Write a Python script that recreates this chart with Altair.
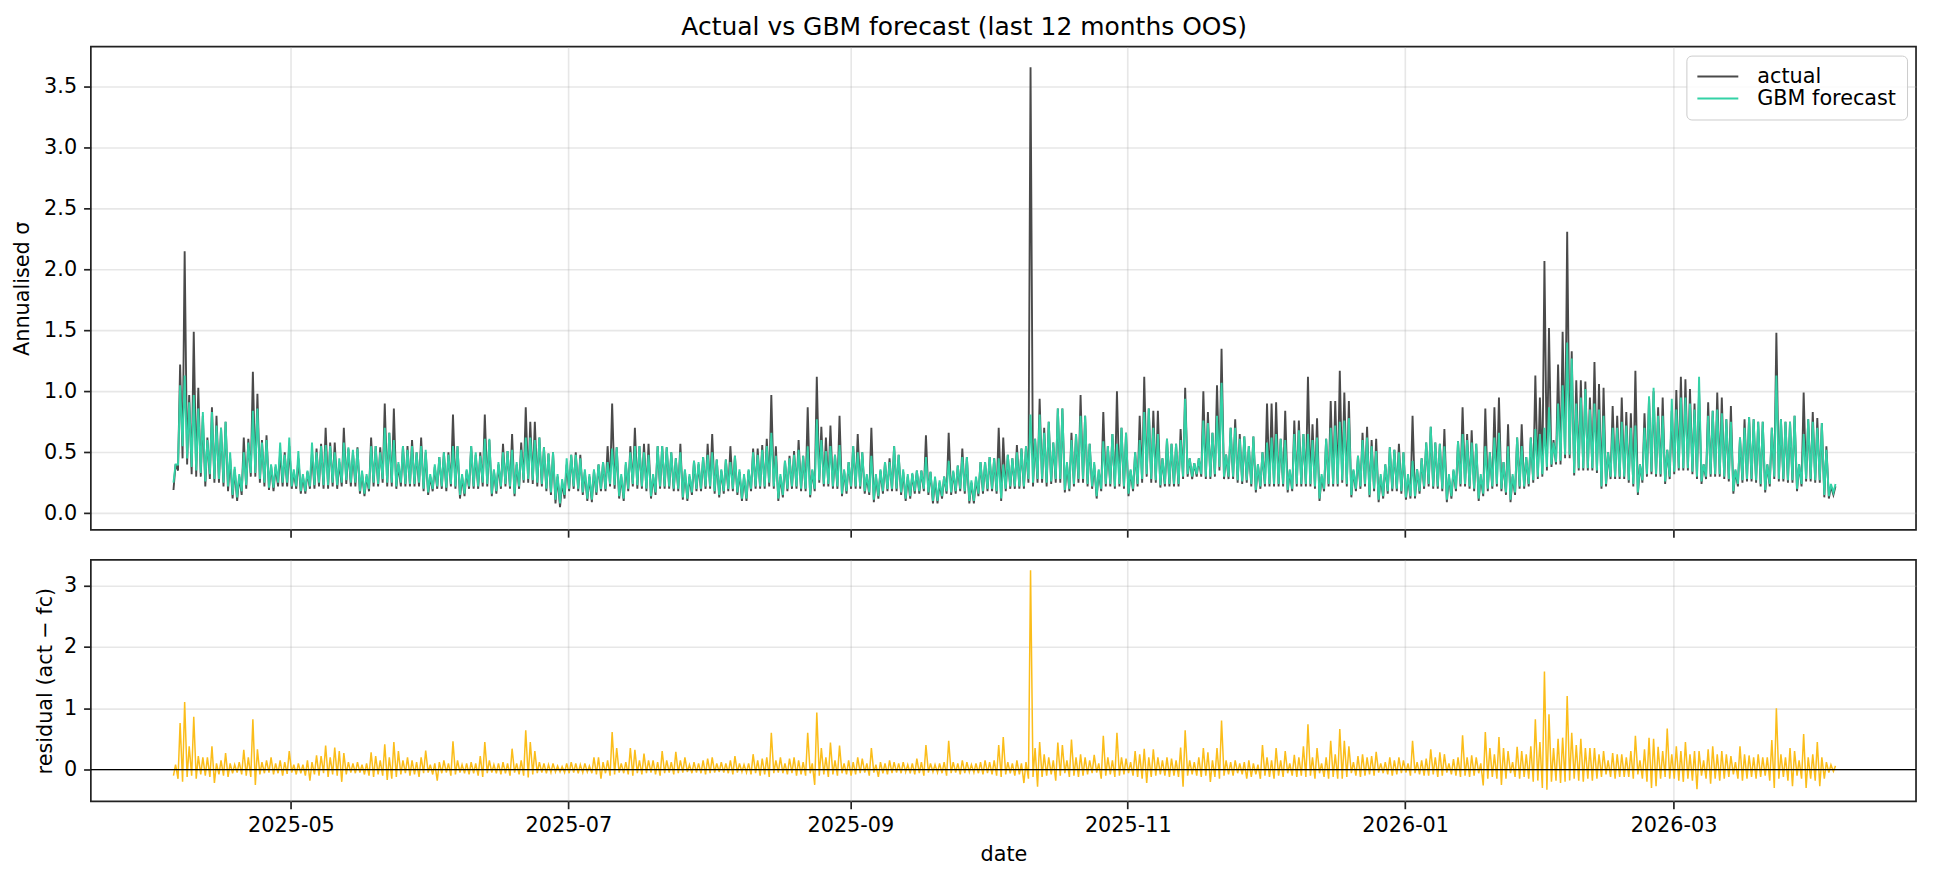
import altair as alt
import pandas as pd

# Daily readings, one value per day starting 2025-04-05.
START = "2025-04-05"

# Daily peak of the realised (actual) annualised volatility
act_peak = [
    0.40, 1.22, 2.15, 0.97, 1.49, 1.03, 0.80, 0.62, 0.87, 0.80,
    0.70, 0.75, 0.45, 0.36, 0.30, 0.62, 0.61, 1.16, 0.98, 0.60,
    0.64, 0.39, 0.38, 0.50, 0.50, 0.55, 0.34, 0.45, 0.30, 0.34,
    0.50, 0.53, 0.57, 0.70, 0.58, 0.58, 0.42, 0.70, 0.53, 0.50,
    0.54, 0.33, 0.30, 0.62, 0.55, 0.54, 0.90, 0.66, 0.86, 0.40,
    0.55, 0.55, 0.60, 0.50, 0.62, 0.50, 0.30, 0.38, 0.46, 0.50,
    0.50, 0.81, 0.55, 0.30, 0.35, 0.55, 0.48, 0.50, 0.81, 0.60,
    0.35, 0.40, 0.57, 0.51, 0.65, 0.40, 0.58, 0.87, 0.75, 0.75,
    0.62, 0.54, 0.49, 0.50, 0.30, 0.25, 0.40, 0.48, 0.50, 0.48,
    0.34, 0.30, 0.35, 0.40, 0.42, 0.55, 0.90, 0.54, 0.30, 0.40,
    0.55, 0.70, 0.55, 0.57, 0.57, 0.30, 0.55, 0.55, 0.54, 0.50,
    0.45, 0.57, 0.35, 0.30, 0.43, 0.40, 0.46, 0.57, 0.65, 0.44,
    0.35, 0.44, 0.55, 0.47, 0.34, 0.30, 0.35, 0.53, 0.53, 0.56,
    0.61, 0.97, 0.55, 0.30, 0.43, 0.47, 0.51, 0.60, 0.47, 0.87,
    0.35, 1.12, 0.71, 0.62, 0.72, 0.48, 0.80, 0.35, 0.42, 0.55,
    0.65, 0.50, 0.30, 0.70, 0.30, 0.35, 0.42, 0.45, 0.55, 0.48,
    0.34, 0.30, 0.32, 0.35, 0.35, 0.64, 0.34, 0.28, 0.25, 0.30,
    0.66, 0.34, 0.39, 0.53, 0.46, 0.25, 0.28, 0.42, 0.42, 0.46,
    0.45, 0.70, 0.62, 0.48, 0.45, 0.56, 0.53, 0.55, 3.66, 0.61,
    0.94, 0.70, 0.75, 0.58, 0.86, 0.86, 0.40, 0.66, 0.65, 0.97,
    0.80, 0.57, 0.40, 0.35, 0.83, 0.55, 0.65, 1.00, 0.70, 0.66,
    0.35, 0.50, 0.80, 1.12, 0.86, 0.84, 0.84, 0.45, 0.61, 0.57,
    0.57, 0.69, 1.03, 0.45, 0.41, 0.45, 1.00, 0.83, 0.66, 1.05,
    1.35, 0.48, 0.70, 0.77, 0.65, 0.63, 0.55, 0.63, 0.40, 0.50,
    0.90, 0.90, 0.91, 0.61, 0.84, 0.35, 0.76, 0.76, 0.65, 1.12,
    0.73, 0.78, 0.30, 0.61, 0.92, 0.92, 1.17, 0.99, 0.92, 0.35,
    0.47, 0.66, 0.71, 0.60, 0.61, 0.30, 0.40, 0.54, 0.52, 0.57,
    0.50, 0.30, 0.80, 0.36, 0.45, 0.58, 0.71, 0.58, 0.57, 0.69,
    0.30, 0.35, 0.59, 0.87, 0.65, 0.68, 0.57, 0.30, 0.86, 0.50,
    0.87, 0.95, 0.42, 0.73, 0.30, 0.62, 0.73, 0.46, 0.62, 1.13,
    0.95, 2.07, 1.52, 0.60, 1.22, 1.49, 2.31, 1.33, 1.09, 1.09,
    1.08, 0.95, 1.24, 1.06, 1.03, 0.50, 0.88, 0.80, 0.95, 0.83,
    0.82, 1.17, 0.40, 0.82, 0.95, 1.00, 0.87, 0.95, 0.52, 0.84,
    1.01, 1.12, 1.10, 1.02, 0.90, 1.00, 0.40, 0.91, 0.84, 0.99,
    0.95, 0.77, 0.88, 0.35, 0.62, 0.77, 0.79, 0.77, 0.75, 0.75,
    0.40, 0.70, 1.48, 0.77, 0.75, 0.75, 0.80, 0.40, 0.99, 0.77,
    0.83, 0.78, 0.74, 0.55, 0.22, 0.22,
]

# Daily peak of the GBM forecast
fc_peak = [
    0.40, 1.05, 1.13, 0.91, 0.97, 0.86, 0.83, 0.60, 0.83, 0.72,
    0.70, 0.75, 0.50, 0.38, 0.32, 0.50, 0.58, 0.84, 0.86, 0.58,
    0.60, 0.40, 0.40, 0.58, 0.48, 0.62, 0.36, 0.51, 0.32, 0.35,
    0.58, 0.50, 0.55, 0.56, 0.55, 0.50, 0.45, 0.58, 0.54, 0.52,
    0.53, 0.35, 0.32, 0.55, 0.55, 0.50, 0.70, 0.66, 0.60, 0.42,
    0.55, 0.52, 0.55, 0.50, 0.55, 0.52, 0.32, 0.40, 0.46, 0.50,
    0.48, 0.55, 0.55, 0.32, 0.36, 0.55, 0.50, 0.47, 0.61, 0.61,
    0.36, 0.42, 0.50, 0.51, 0.52, 0.42, 0.52, 0.62, 0.62, 0.60,
    0.62, 0.54, 0.49, 0.50, 0.32, 0.28, 0.45, 0.48, 0.48, 0.45,
    0.36, 0.32, 0.36, 0.40, 0.42, 0.42, 0.53, 0.54, 0.32, 0.42,
    0.50, 0.55, 0.55, 0.50, 0.48, 0.32, 0.55, 0.55, 0.54, 0.50,
    0.45, 0.50, 0.36, 0.32, 0.43, 0.42, 0.46, 0.48, 0.50, 0.44,
    0.36, 0.44, 0.42, 0.47, 0.36, 0.32, 0.36, 0.50, 0.48, 0.52,
    0.55, 0.66, 0.47, 0.32, 0.43, 0.45, 0.48, 0.52, 0.47, 0.55,
    0.36, 0.77, 0.60, 0.51, 0.55, 0.48, 0.56, 0.36, 0.42, 0.55,
    0.50, 0.50, 0.32, 0.47, 0.32, 0.36, 0.42, 0.42, 0.55, 0.48,
    0.36, 0.32, 0.33, 0.35, 0.35, 0.46, 0.34, 0.30, 0.27, 0.30,
    0.43, 0.35, 0.39, 0.46, 0.46, 0.27, 0.30, 0.42, 0.42, 0.46,
    0.45, 0.45, 0.40, 0.48, 0.45, 0.50, 0.53, 0.55, 0.81, 0.61,
    0.81, 0.66, 0.75, 0.58, 0.86, 0.86, 0.42, 0.60, 0.65, 0.80,
    0.80, 0.57, 0.42, 0.36, 0.59, 0.55, 0.65, 0.57, 0.70, 0.66,
    0.36, 0.50, 0.60, 0.83, 0.86, 0.70, 0.65, 0.45, 0.61, 0.57,
    0.57, 0.60, 0.94, 0.45, 0.41, 0.45, 0.76, 0.74, 0.66, 0.80,
    1.07, 0.48, 0.70, 0.70, 0.61, 0.63, 0.55, 0.63, 0.40, 0.50,
    0.58, 0.62, 0.65, 0.61, 0.60, 0.36, 0.65, 0.68, 0.65, 0.65,
    0.60, 0.62, 0.32, 0.61, 0.70, 0.72, 0.75, 0.76, 0.78, 0.36,
    0.47, 0.60, 0.62, 0.55, 0.51, 0.32, 0.40, 0.54, 0.52, 0.50,
    0.50, 0.32, 0.43, 0.36, 0.45, 0.58, 0.71, 0.58, 0.57, 0.55,
    0.32, 0.36, 0.59, 0.65, 0.60, 0.58, 0.57, 0.32, 0.55, 0.50,
    0.62, 0.66, 0.42, 0.55, 0.32, 0.62, 0.55, 0.46, 0.62, 0.69,
    0.65, 0.70, 0.87, 0.58, 0.90, 1.05, 1.40, 1.27, 0.90, 0.95,
    1.02, 0.85, 0.90, 0.85, 0.80, 0.50, 0.70, 0.70, 0.75, 0.72,
    0.70, 0.72, 0.40, 0.70, 0.96, 1.03, 0.80, 0.80, 0.52, 0.94,
    0.85, 0.95, 0.95, 0.90, 0.85, 1.12, 0.40, 0.80, 0.84, 0.85,
    0.82, 0.77, 0.75, 0.36, 0.62, 0.70, 0.79, 0.77, 0.75, 0.75,
    0.40, 0.70, 1.13, 0.77, 0.75, 0.75, 0.80, 0.40, 0.65, 0.77,
    0.75, 0.70, 0.74, 0.52, 0.24, 0.24,
]

# Daily trough of the actual series
act_trough = [
    0.19, 0.35, 0.45, 0.40, 0.32, 0.30, 0.30, 0.22, 0.28, 0.25,
    0.25, 0.22, 0.18, 0.12, 0.10, 0.15, 0.20, 0.30, 0.30, 0.25,
    0.22, 0.19, 0.18, 0.22, 0.22, 0.22, 0.20, 0.20, 0.16, 0.16,
    0.20, 0.20, 0.22, 0.20, 0.20, 0.22, 0.20, 0.22, 0.24, 0.22,
    0.22, 0.16, 0.14, 0.18, 0.22, 0.22, 0.25, 0.22, 0.22, 0.20,
    0.22, 0.22, 0.22, 0.22, 0.22, 0.18, 0.15, 0.18, 0.20, 0.20,
    0.18, 0.22, 0.20, 0.12, 0.14, 0.20, 0.20, 0.20, 0.22, 0.22,
    0.14, 0.16, 0.20, 0.22, 0.20, 0.14, 0.20, 0.25, 0.25, 0.24,
    0.22, 0.22, 0.18, 0.15, 0.08, 0.05, 0.12, 0.18, 0.20, 0.18,
    0.15, 0.10, 0.09, 0.15, 0.18, 0.18, 0.22, 0.20, 0.12, 0.10,
    0.18, 0.22, 0.20, 0.20, 0.18, 0.12, 0.15, 0.20, 0.20, 0.20,
    0.18, 0.18, 0.11, 0.10, 0.15, 0.18, 0.18, 0.20, 0.20, 0.16,
    0.13, 0.16, 0.18, 0.18, 0.15, 0.10, 0.10, 0.18, 0.20, 0.20,
    0.20, 0.22, 0.20, 0.10, 0.13, 0.18, 0.20, 0.20, 0.18, 0.18,
    0.13, 0.18, 0.25, 0.22, 0.22, 0.20, 0.20, 0.14, 0.16, 0.20,
    0.20, 0.20, 0.16, 0.15, 0.09, 0.12, 0.16, 0.18, 0.18, 0.18,
    0.15, 0.10, 0.12, 0.16, 0.16, 0.18, 0.15, 0.08, 0.08, 0.12,
    0.16, 0.15, 0.16, 0.18, 0.16, 0.08, 0.08, 0.14, 0.16, 0.18,
    0.18, 0.16, 0.10, 0.18, 0.20, 0.20, 0.20, 0.20, 0.25, 0.22,
    0.25, 0.25, 0.22, 0.24, 0.25, 0.25, 0.17, 0.18, 0.22, 0.25,
    0.25, 0.22, 0.20, 0.12, 0.18, 0.22, 0.22, 0.20, 0.22, 0.20,
    0.14, 0.18, 0.22, 0.25, 0.30, 0.25, 0.25, 0.21, 0.22, 0.22,
    0.22, 0.22, 0.28, 0.30, 0.28, 0.30, 0.30, 0.28, 0.28, 0.30,
    0.35, 0.28, 0.28, 0.28, 0.25, 0.24, 0.25, 0.22, 0.17, 0.20,
    0.22, 0.22, 0.22, 0.22, 0.22, 0.17, 0.18, 0.22, 0.22, 0.22,
    0.22, 0.20, 0.10, 0.18, 0.22, 0.22, 0.22, 0.25, 0.22, 0.13,
    0.18, 0.20, 0.22, 0.13, 0.18, 0.09, 0.12, 0.16, 0.18, 0.18,
    0.16, 0.11, 0.12, 0.12, 0.16, 0.20, 0.22, 0.20, 0.20, 0.18,
    0.09, 0.12, 0.18, 0.22, 0.22, 0.20, 0.18, 0.10, 0.14, 0.18,
    0.20, 0.22, 0.18, 0.15, 0.09, 0.15, 0.20, 0.20, 0.22, 0.25,
    0.28, 0.30, 0.35, 0.38, 0.40, 0.40, 0.45, 0.45, 0.31, 0.35,
    0.35, 0.35, 0.35, 0.33, 0.20, 0.22, 0.28, 0.28, 0.28, 0.28,
    0.25, 0.22, 0.15, 0.25, 0.30, 0.32, 0.30, 0.30, 0.24, 0.28,
    0.32, 0.35, 0.35, 0.35, 0.32, 0.28, 0.24, 0.28, 0.30, 0.30,
    0.30, 0.28, 0.26, 0.16, 0.22, 0.25, 0.26, 0.26, 0.25, 0.22,
    0.17, 0.22, 0.28, 0.26, 0.26, 0.25, 0.25, 0.18, 0.22, 0.26,
    0.26, 0.25, 0.25, 0.13, 0.12, 0.15,
]

# Daily trough of the GBM forecast
fc_trough = [
    0.25, 0.40, 0.55, 0.45, 0.38, 0.35, 0.33, 0.26, 0.32, 0.28,
    0.28, 0.25, 0.22, 0.15, 0.13, 0.18, 0.23, 0.33, 0.33, 0.28,
    0.25, 0.21, 0.21, 0.25, 0.25, 0.25, 0.22, 0.22, 0.18, 0.18,
    0.22, 0.23, 0.25, 0.23, 0.23, 0.25, 0.23, 0.25, 0.27, 0.25,
    0.25, 0.18, 0.16, 0.20, 0.25, 0.24, 0.28, 0.25, 0.25, 0.22,
    0.25, 0.24, 0.24, 0.24, 0.25, 0.20, 0.17, 0.20, 0.22, 0.22,
    0.21, 0.24, 0.22, 0.15, 0.16, 0.22, 0.22, 0.22, 0.25, 0.24,
    0.16, 0.18, 0.22, 0.24, 0.22, 0.16, 0.22, 0.27, 0.28, 0.27,
    0.25, 0.24, 0.20, 0.17, 0.11, 0.08, 0.15, 0.20, 0.22, 0.20,
    0.17, 0.12, 0.11, 0.17, 0.20, 0.20, 0.24, 0.23, 0.14, 0.12,
    0.20, 0.24, 0.23, 0.22, 0.20, 0.14, 0.17, 0.22, 0.22, 0.22,
    0.20, 0.20, 0.13, 0.12, 0.17, 0.20, 0.20, 0.22, 0.22, 0.18,
    0.15, 0.18, 0.20, 0.20, 0.17, 0.12, 0.12, 0.20, 0.22, 0.22,
    0.22, 0.25, 0.22, 0.12, 0.15, 0.20, 0.22, 0.22, 0.20, 0.20,
    0.15, 0.20, 0.27, 0.24, 0.24, 0.22, 0.22, 0.16, 0.18, 0.22,
    0.22, 0.22, 0.18, 0.17, 0.11, 0.14, 0.18, 0.20, 0.20, 0.20,
    0.17, 0.12, 0.14, 0.18, 0.18, 0.20, 0.17, 0.10, 0.10, 0.14,
    0.18, 0.17, 0.18, 0.20, 0.18, 0.10, 0.10, 0.16, 0.18, 0.20,
    0.20, 0.18, 0.12, 0.20, 0.22, 0.22, 0.22, 0.22, 0.28, 0.25,
    0.28, 0.28, 0.25, 0.26, 0.28, 0.28, 0.19, 0.20, 0.24, 0.28,
    0.28, 0.24, 0.22, 0.14, 0.20, 0.24, 0.24, 0.22, 0.24, 0.22,
    0.16, 0.20, 0.24, 0.28, 0.32, 0.28, 0.27, 0.23, 0.24, 0.24,
    0.24, 0.24, 0.30, 0.32, 0.30, 0.32, 0.32, 0.30, 0.30, 0.32,
    0.38, 0.30, 0.30, 0.30, 0.27, 0.26, 0.27, 0.24, 0.19, 0.22,
    0.24, 0.24, 0.24, 0.24, 0.24, 0.19, 0.20, 0.24, 0.24, 0.24,
    0.24, 0.22, 0.12, 0.20, 0.24, 0.24, 0.24, 0.27, 0.24, 0.15,
    0.20, 0.22, 0.24, 0.15, 0.20, 0.11, 0.14, 0.18, 0.20, 0.20,
    0.18, 0.13, 0.14, 0.14, 0.18, 0.22, 0.24, 0.22, 0.22, 0.20,
    0.11, 0.14, 0.20, 0.24, 0.24, 0.22, 0.20, 0.12, 0.16, 0.20,
    0.22, 0.24, 0.20, 0.17, 0.11, 0.17, 0.22, 0.22, 0.24, 0.27,
    0.30, 0.32, 0.38, 0.40, 0.42, 0.43, 0.48, 0.48, 0.33, 0.37,
    0.37, 0.37, 0.37, 0.35, 0.22, 0.24, 0.30, 0.30, 0.30, 0.30,
    0.27, 0.24, 0.17, 0.27, 0.32, 0.34, 0.32, 0.32, 0.26, 0.30,
    0.34, 0.37, 0.37, 0.37, 0.34, 0.30, 0.26, 0.30, 0.32, 0.32,
    0.32, 0.30, 0.28, 0.18, 0.24, 0.27, 0.28, 0.28, 0.27, 0.24,
    0.19, 0.24, 0.30, 0.28, 0.28, 0.27, 0.27, 0.20, 0.24, 0.28,
    0.28, 0.27, 0.27, 0.15, 0.14, 0.17,
]

# Daily largest residual (act − fc)
resid_high = [
    0.08, 0.76, 1.10, 0.38, 0.86, 0.22, 0.20, 0.20, 0.38, 0.10,
    0.15, 0.27, 0.10, 0.08, 0.12, 0.32, 0.20, 0.82, 0.33, 0.12,
    0.15, 0.20, 0.10, 0.15, 0.12, 0.30, 0.08, 0.10, 0.08, 0.15,
    0.12, 0.23, 0.22, 0.39, 0.20, 0.36, 0.30, 0.27, 0.12, 0.10,
    0.12, 0.08, 0.10, 0.28, 0.22, 0.15, 0.41, 0.20, 0.45, 0.30,
    0.15, 0.20, 0.15, 0.12, 0.20, 0.31, 0.08, 0.10, 0.12, 0.15,
    0.10, 0.46, 0.15, 0.08, 0.10, 0.12, 0.10, 0.22, 0.45, 0.15,
    0.08, 0.10, 0.12, 0.10, 0.34, 0.10, 0.15, 0.64, 0.45, 0.30,
    0.12, 0.10, 0.08, 0.10, 0.06, 0.05, 0.10, 0.12, 0.10, 0.08,
    0.10, 0.06, 0.20, 0.20, 0.12, 0.15, 0.61, 0.35, 0.10, 0.12,
    0.35, 0.32, 0.15, 0.26, 0.15, 0.15, 0.12, 0.30, 0.15, 0.12,
    0.29, 0.15, 0.20, 0.08, 0.12, 0.10, 0.15, 0.18, 0.20, 0.10,
    0.12, 0.10, 0.15, 0.22, 0.10, 0.08, 0.10, 0.25, 0.15, 0.18,
    0.20, 0.60, 0.15, 0.20, 0.10, 0.18, 0.20, 0.15, 0.12, 0.60,
    0.10, 0.93, 0.35, 0.20, 0.44, 0.15, 0.39, 0.10, 0.15, 0.12,
    0.20, 0.18, 0.10, 0.35, 0.08, 0.12, 0.10, 0.15, 0.12, 0.10,
    0.12, 0.08, 0.10, 0.18, 0.12, 0.40, 0.10, 0.08, 0.10, 0.12,
    0.47, 0.12, 0.10, 0.15, 0.12, 0.08, 0.10, 0.12, 0.15, 0.12,
    0.15, 0.40, 0.53, 0.12, 0.10, 0.15, 0.10, 0.12, 3.25, 0.35,
    0.45, 0.25, 0.20, 0.15, 0.44, 0.40, 0.15, 0.49, 0.20, 0.25,
    0.20, 0.15, 0.24, 0.10, 0.55, 0.20, 0.15, 0.60, 0.20, 0.18,
    0.12, 0.30, 0.25, 0.34, 0.20, 0.33, 0.20, 0.15, 0.20, 0.18,
    0.15, 0.36, 0.64, 0.15, 0.12, 0.20, 0.35, 0.28, 0.15, 0.35,
    0.80, 0.15, 0.12, 0.15, 0.10, 0.12, 0.15, 0.10, 0.08, 0.40,
    0.20, 0.15, 0.35, 0.15, 0.30, 0.10, 0.24, 0.20, 0.38, 0.74,
    0.20, 0.35, 0.10, 0.20, 0.47, 0.25, 0.66, 0.47, 0.38, 0.12,
    0.22, 0.25, 0.20, 0.22, 0.29, 0.10, 0.12, 0.20, 0.15, 0.20,
    0.15, 0.10, 0.47, 0.12, 0.15, 0.18, 0.33, 0.20, 0.28, 0.25,
    0.10, 0.17, 0.20, 0.56, 0.20, 0.23, 0.20, 0.10, 0.61, 0.35,
    0.25, 0.53, 0.35, 0.30, 0.12, 0.37, 0.30, 0.25, 0.38, 0.82,
    0.45, 1.60, 0.90, 0.35, 0.50, 0.52, 1.20, 0.60, 0.40, 0.50,
    0.35, 0.35, 0.35, 0.25, 0.30, 0.15, 0.27, 0.25, 0.25, 0.20,
    0.30, 0.55, 0.15, 0.33, 0.52, 0.50, 0.37, 0.30, 0.67, 0.25,
    0.38, 0.30, 0.45, 0.25, 0.30, 0.30, 0.15, 0.33, 0.38, 0.25,
    0.30, 0.25, 0.22, 0.12, 0.38, 0.25, 0.23, 0.20, 0.25, 0.20,
    0.20, 0.48, 1.00, 0.25, 0.20, 0.35, 0.30, 0.15, 0.58, 0.20,
    0.25, 0.45, 0.20, 0.12, 0.08, 0.06,
]

# Daily most negative residual (act − fc)
resid_low = [
    -0.10, -0.15, -0.20, -0.12, -0.10, -0.15, -0.08, -0.10, -0.12, -0.22,
    -0.08, -0.10, -0.12, -0.06, -0.05, -0.08, -0.10, -0.12, -0.25, -0.08,
    -0.06, -0.05, -0.08, -0.06, -0.10, -0.07, -0.05, -0.08, -0.06, -0.10,
    -0.18, -0.08, -0.10, -0.06, -0.12, -0.08, -0.10, -0.20, -0.08, -0.05,
    -0.06, -0.05, -0.08, -0.10, -0.12, -0.08, -0.10, -0.17, -0.15, -0.12,
    -0.08, -0.06, -0.10, -0.08, -0.12, -0.06, -0.05, -0.08, -0.18, -0.06,
    -0.05, -0.10, -0.08, -0.05, -0.06, -0.08, -0.06, -0.10, -0.12, -0.06,
    -0.05, -0.06, -0.08, -0.06, -0.10, -0.05, -0.08, -0.10, -0.13, -0.08,
    -0.06, -0.05, -0.06, -0.05, -0.04, -0.04, -0.05, -0.06, -0.05, -0.06,
    -0.05, -0.04, -0.06, -0.08, -0.15, -0.06, -0.10, -0.08, -0.05, -0.06,
    -0.08, -0.10, -0.06, -0.08, -0.06, -0.05, -0.08, -0.10, -0.06, -0.05,
    -0.08, -0.06, -0.05, -0.04, -0.06, -0.05, -0.06, -0.08, -0.06, -0.05,
    -0.04, -0.05, -0.06, -0.08, -0.05, -0.04, -0.05, -0.08, -0.06, -0.10,
    -0.08, -0.12, -0.06, -0.05, -0.06, -0.08, -0.06, -0.10, -0.08, -0.10,
    -0.06, -0.25, -0.10, -0.08, -0.12, -0.08, -0.10, -0.06, -0.08, -0.10,
    -0.08, -0.06, -0.05, -0.10, -0.05, -0.12, -0.06, -0.08, -0.06, -0.05,
    -0.06, -0.04, -0.06, -0.08, -0.06, -0.10, -0.05, -0.04, -0.05, -0.06,
    -0.10, -0.06, -0.05, -0.08, -0.06, -0.04, -0.05, -0.06, -0.08, -0.06,
    -0.08, -0.10, -0.12, -0.08, -0.06, -0.10, -0.08, -0.22, -0.15, -0.12,
    -0.28, -0.12, -0.10, -0.08, -0.18, -0.10, -0.06, -0.12, -0.10, -0.12,
    -0.10, -0.08, -0.06, -0.05, -0.15, -0.10, -0.08, -0.12, -0.10, -0.08,
    -0.06, -0.10, -0.12, -0.15, -0.22, -0.12, -0.10, -0.08, -0.10, -0.12,
    -0.10, -0.12, -0.28, -0.10, -0.08, -0.10, -0.12, -0.10, -0.20, -0.12,
    -0.15, -0.10, -0.08, -0.10, -0.06, -0.08, -0.15, -0.12, -0.08, -0.15,
    -0.10, -0.12, -0.15, -0.10, -0.12, -0.06, -0.10, -0.12, -0.10, -0.12,
    -0.10, -0.15, -0.06, -0.12, -0.15, -0.12, -0.15, -0.15, -0.12, -0.06,
    -0.10, -0.12, -0.10, -0.08, -0.10, -0.05, -0.06, -0.08, -0.10, -0.08,
    -0.06, -0.05, -0.10, -0.06, -0.08, -0.10, -0.10, -0.08, -0.12, -0.10,
    -0.05, -0.08, -0.10, -0.12, -0.10, -0.12, -0.10, -0.06, -0.26, -0.15,
    -0.12, -0.15, -0.25, -0.15, -0.06, -0.12, -0.15, -0.12, -0.15, -0.20,
    -0.18, -0.30, -0.33, -0.20, -0.18, -0.22, -0.20, -0.18, -0.15, -0.18,
    -0.20, -0.15, -0.18, -0.15, -0.12, -0.08, -0.12, -0.15, -0.12, -0.12,
    -0.12, -0.15, -0.08, -0.15, -0.20, -0.30, -0.27, -0.15, -0.12, -0.15,
    -0.15, -0.18, -0.20, -0.15, -0.18, -0.32, -0.10, -0.15, -0.23, -0.15,
    -0.18, -0.15, -0.12, -0.08, -0.15, -0.18, -0.15, -0.12, -0.15, -0.12,
    -0.10, -0.18, -0.30, -0.15, -0.12, -0.18, -0.27, -0.10, -0.15, -0.30,
    -0.15, -0.18, -0.27, -0.15, -0.05, -0.03,
]

# Hour of day at which the trough and the peak are sampled
TROUGH_HOUR = 4
PEAK_HOUR = 15

base = pd.Timestamp(START)


def stamp(day, hour):
    return (base + pd.Timedelta(days=day, hours=hour)).strftime("%Y-%m-%dT%H:%M:%S")


n_days = min(len(act_peak), len(fc_peak), len(act_trough), len(fc_trough))
sigma_rows = []
for d in range(n_days):
    sigma_rows.append({"time": stamp(d, TROUGH_HOUR), "actual": act_trough[d], "forecast": fc_trough[d]})
    sigma_rows.append({"time": stamp(d, PEAK_HOUR), "actual": act_peak[d], "forecast": fc_peak[d]})
sigma_df = pd.DataFrame(sigma_rows)

n_resid = min(len(resid_high), len(resid_low))
resid_rows = []
for d in range(n_resid):
    resid_rows.append({"time": stamp(d, TROUGH_HOUR), "residual": resid_low[d]})
    resid_rows.append({"time": stamp(d, PEAK_HOUR), "residual": resid_high[d]})
resid_df = pd.DataFrame(resid_rows)

zero_df = pd.DataFrame({"level": [0.0]})

FONT = "DejaVu Sans"
FS = 20.8
C_ACTUAL = "#4a4a4a"
C_FORECAST = "#33d2a6"
C_RESID = "#fbbd1a"

x_scale = alt.Scale(domain=[alt.DateTime(year=2025, month=3, date=18),
                            alt.DateTime(year=2026, month=4, date=23, hours=8)])
month_ticks = [alt.DateTime(year=y, month=m, date=1)
               for y, m in [(2025, 5), (2025, 7), (2025, 9), (2025, 11), (2026, 1), (2026, 3)]]

top_x_axis = alt.Axis(values=month_ticks, labels=False, title=None, grid=True)
bottom_x_axis = alt.Axis(values=month_ticks, format="%Y-%m", title="date", grid=True,
                         labelOverlap=False, titlePadding=9)

top_y_scale = alt.Scale(domain=[-0.137, 3.83], nice=False, zero=False)
top_y_axis = alt.Axis(values=[0, 0.5, 1, 1.5, 2, 2.5, 3, 3.5], format=".1f",
                      title="Annualised σ", grid=True, titlePadding=11)

color_scale = alt.Scale(domain=["actual", "GBM forecast"], range=[C_ACTUAL, C_FORECAST])
legend = alt.Legend(orient="top-right", offset=9, title=None)

actual_line = alt.Chart(sigma_df).transform_calculate(series="'actual'").mark_line(strokeWidth=1.9).encode(
    x=alt.X("time:T", scale=x_scale, axis=top_x_axis),
    y=alt.Y("actual:Q", scale=top_y_scale, axis=top_y_axis),
    color=alt.Color("series:N", scale=color_scale, legend=legend),
)
forecast_line = alt.Chart(sigma_df).transform_calculate(series="'GBM forecast'").mark_line(strokeWidth=1.9).encode(
    x=alt.X("time:T", scale=x_scale, axis=top_x_axis),
    y=alt.Y("forecast:Q", scale=top_y_scale, axis=top_y_axis),
    color=alt.Color("series:N", scale=color_scale, legend=legend),
)
top = alt.layer(actual_line, forecast_line).properties(width=1828, height=484)

bottom_y_scale = alt.Scale(domain=[-0.52, 3.42], nice=False, zero=False)
bottom_y_axis = alt.Axis(values=[0, 1, 2, 3], format="d",
                         title="residual (act − fc)", grid=True, titlePadding=8)

resid_line = alt.Chart(resid_df).mark_line(color=C_RESID, strokeWidth=1.5).encode(
    x=alt.X("time:T", scale=x_scale, axis=bottom_x_axis),
    y=alt.Y("residual:Q", scale=bottom_y_scale, axis=bottom_y_axis),
)
zero_rule = alt.Chart(zero_df).mark_rule(color="black", strokeWidth=1.3).encode(
    y=alt.Y("level:Q", scale=bottom_y_scale, axis=bottom_y_axis),
)
bottom = alt.layer(resid_line, zero_rule).properties(width=1828, height=242)

chart = (
    alt.vconcat(top, bottom, spacing=30, bounds="flush")
    .properties(
        title=alt.TitleParams(
            "Actual vs GBM forecast (last 12 months OOS)",
            font=FONT, fontSize=25, fontWeight="normal", color="black",
            anchor="middle", offset=6,
        ),
        padding={"left": 10, "top": 14, "right": 16, "bottom": 16},
        background="white",
    )
    .configure_view(stroke="#222222", strokeWidth=1.7)
    .configure_axis(
        labelFont=FONT, labelFontSize=FS, labelColor="black",
        titleFont=FONT, titleFontSize=FS, titleFontWeight="normal", titleColor="black",
        tickColor="#222222", tickWidth=1.7, tickSize=7.3, labelPadding=7,
        domain=False, gridColor="#b0b0b0", gridOpacity=0.3, gridWidth=1.6,
    )
    .configure_legend(
        labelFont=FONT, labelFontSize=FS, labelColor="black",
        symbolType="stroke", symbolSize=1681, symbolStrokeWidth=2,
        clipHeight=22, padding=10, rowPadding=0, labelOffset=18,
        strokeColor="#cccccc", fillColor="rgba(255,255,255,0.8)", cornerRadius=5,
    )
)

chart.save("out.html", embed_options={"renderer": "svg", "actions": False})
